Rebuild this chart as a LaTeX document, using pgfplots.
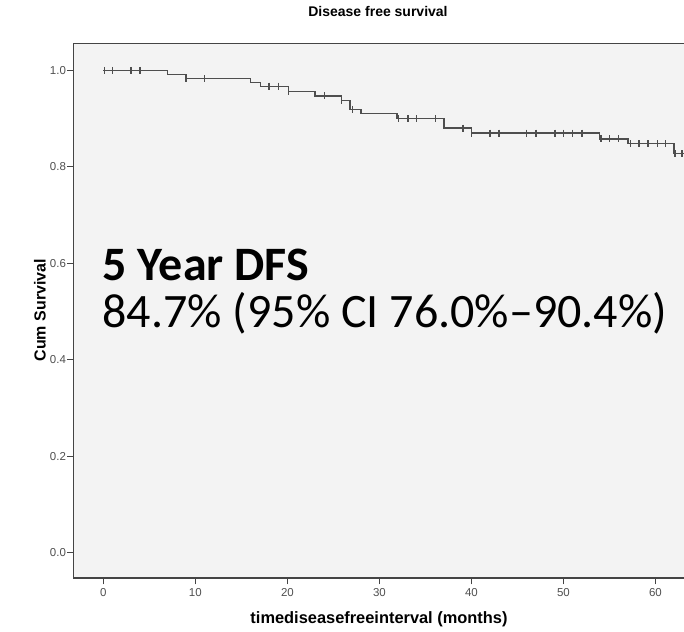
\documentclass[border=0pt]{standalone}
\usepackage{pgfplots}
\pgfplotsset{compat=1.18}
\usepackage{fontspec}
\setmainfont{Liberation Sans}
\newfontfamily\carlito{Carlito}
\definecolor{bggray}{HTML}{F3F3F3}
\definecolor{framegray}{HTML}{444444}
\definecolor{curvegray}{HTML}{4E4E4E}
\definecolor{tickgray}{HTML}{4F4F4F}
\begin{document}
\begin{tikzpicture}
\useasboundingbox (-73pt,-52.7pt) rectangle (611pt,578.3pt);
\begin{axis}[
  at={(0pt,0pt)}, anchor=south west,
  scale only axis, width=611pt, height=535pt,
  xmin=-3.3, xmax=63.1, ymin=-0.053, ymax=1.056,
  axis background/.style={fill=bggray},
  axis line style={draw=none},
  xtick={0,10,20,30,40,50,60}, ytick={0,0.2,0.4,0.6,0.8,1.0},
  xtick pos=left, ytick pos=left, tick align=outside,
  major tick length=6pt,
  tick style={framegray, line width=1.2pt},
  /pgf/number format/assume math mode=true,
  yticklabel style={/pgf/number format/fixed, /pgf/number format/fixed zerofill, /pgf/number format/precision=1, font=\fontsize{11.5}{13}\selectfont, text=tickgray, xshift=2.5pt},
  xticklabel style={font=\fontsize{11.5}{13}\selectfont, text=tickgray, yshift=-1pt},
]
\addplot[const plot, color=curvegray, line width=1.4pt] coordinates {
(0,1.000) (6.96,0.991) (8.99,0.983) (16.0,0.975) (17.1,0.967) (20.1,0.956)
(23.0,0.947) (25.9,0.938) (26.8,0.919) (28.0,0.910) (31.9,0.900) (37.0,0.880)
(40.0,0.870) (53.9,0.858) (57.0,0.848) (62.0,0.827) (63.2,0.827)
};
\addplot[only marks, mark=|, mark size=3.5pt, mark options={line width=1.4pt, color=curvegray}] coordinates {
(0.1,1.0) (1.0,1.0) (3.0,1.0) (4.0,1.0)
(9.0,0.983) (11.0,0.983)
(18.0,0.967) (19.0,0.967) (20.1,0.956)
(24.0,0.947) (25.9,0.938) (27.1,0.919)
(32.1,0.900) (33.1,0.900) (34.0,0.900) (36.1,0.900)
(39.1,0.880) (40.0,0.870) (42.0,0.870) (43.0,0.870) (46.0,0.870) (47.0,0.870)
(49.1,0.870) (50.0,0.870) (51.0,0.870) (52.0,0.870)
(54.1,0.858) (55.0,0.858) (56.0,0.858)
(57.3,0.848) (58.2,0.848) (59.2,0.848) (60.2,0.848) (61.1,0.848)
(62.1,0.827) (62.9,0.827)
};
\draw[framegray, line width=1.8pt] (rel axis cs:1,1) -- (rel axis cs:0,1) -- (rel axis cs:0,0) -- (rel axis cs:1,0);
\node[anchor=base west, inner sep=0pt, font=\carlito\bfseries\fontsize{48}{56}\selectfont] at (axis cs:-0.1,0.5653) {5 Year DFS};
\node[anchor=base west, inner sep=0pt, font=\carlito\fontsize{48}{56}\selectfont] at (axis cs:-0.1,0.4659) {84.7\% (95\% CI 76.0\%–90.4\%)};
\end{axis}
\node[anchor=base, font=\bfseries\fontsize{14}{16}\selectfont] at (305pt,561.3pt) {Disease free survival};
\node[anchor=base, font=\bfseries\fontsize{16.4}{18}\selectfont] at (306pt,-44.7pt) {timediseasefreeinterval (months)};
\node[anchor=center, rotate=90, font=\bfseries\fontsize{16}{18}\selectfont] at (-33pt,268pt) {Cum Survival};
\end{tikzpicture}
\end{document}
